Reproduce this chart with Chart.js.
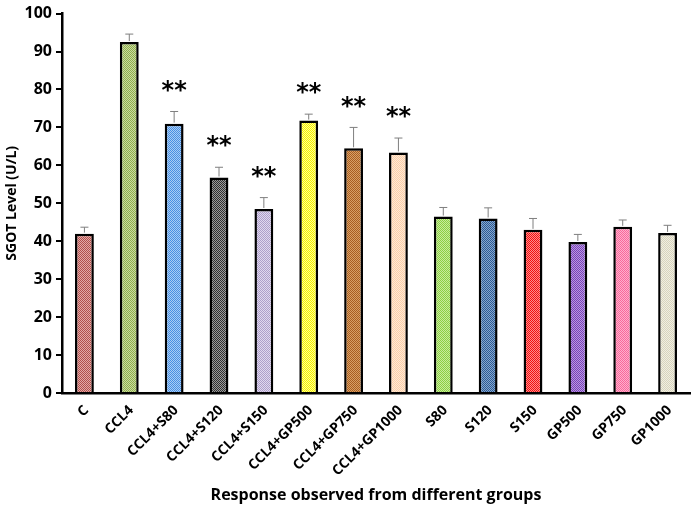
<!doctype html>
<html>
  <head>
    <meta charset="utf-8">
    <title>SGOT level</title>
    <style>
      html, body { margin: 0; padding: 0; background: #fff; }
    </style>
    <script src="https://cdn.jsdelivr.net/npm/chart.js@4/dist/chart.umd.min.js"></script>
  </head>
  <body>
    <canvas id="sgotChart" width="694" height="513"></canvas>
  </body>
  <script>
    const groups = ["C", "CCL4", "CCL4+S80", "CCL4+S120", "CCL4+S150", "CCL4+GP500", "CCL4+GP750",
                    "CCL4+GP1000", "S80", "S120", "S150", "GP500", "GP750", "GP1000"];
    const sgot = [42, 92.5, 71, 56.8, 48.5, 71.8, 64.5, 63.4, 46.5, 46, 43, 39.8, 43.8, 42.2];
    const sgotErr = [1.7, 2.1, 3.2, 2.7, 3.0, 1.7, 5.5, 3.8, 2.4, 2.8, 3.0, 2.0, 1.8, 2.0];
    const signif = ["", "", "**", "**", "**", "**", "**", "**", "", "", "", "", "", ""];
    const yTicks = [0, 10, 20, 30, 40, 50, 60, 70, 80, 90, 100];

    // checkerboard fills, [dark, light]
    const fills = [
	["#b0504c", "#e3a9a7"], ["#8fae4c", "#c9dba0"], ["#4a8fe2", "#a8cdf5"], ["#303030", "#9a9a9a"],
	["#ae9fca", "#e0d8ee"], ["#f5f000", "#ffff90"], ["#a85e22", "#d8a066"], ["#fbcfa8", "#fee8d6"],
	["#8ccf44", "#c8ec9c"], ["#2c5a94", "#86a6cc"], ["#f01010", "#ff8a8a"], ["#7a40b8", "#b89ae0"],
	["#f86a9c", "#ffb0cc"], ["#d8d4bc", "#f0eee2"]
    ];

    function checker(c1, c2) {
	let cv = document.createElement("canvas");
	cv.width = 2; cv.height = 2;
	let g = cv.getContext("2d");
	g.fillStyle = c2; g.fillRect(0, 0, 2, 2);
	g.fillStyle = c1; g.fillRect(0, 0, 1, 1); g.fillRect(1, 1, 1, 1);
	return g.createPattern(cv, "repeat");
    }

    const errorBars = {
	id: "errorBars",
	afterDatasetsDraw(chart) {
	    let ctx = chart.ctx;
	    let y = chart.scales.y;
	    let meta = chart.getDatasetMeta(0);
	    ctx.save();
	    meta.data.forEach((bar, i) => {
		let top = y.getPixelForValue(sgot[i] + sgotErr[i]);
		ctx.strokeStyle = "#7f7f7f";
		ctx.lineWidth = 1;
		ctx.beginPath();
		ctx.moveTo(bar.x, bar.y - 1);
		ctx.lineTo(bar.x, top);
		ctx.moveTo(bar.x - 4, top);
		ctx.lineTo(bar.x + 4, top);
		ctx.stroke();
		if (signif[i]) {
		    ctx.fillStyle = "#000";
		    ctx.font = "bold 24px 'DejaVu Sans'";
		    ctx.textAlign = "center";
		    ctx.textBaseline = "middle";
		    ctx.fillText(signif[i], bar.x, top - 20);
		}
	    });
	    ctx.restore();
	}
    };

    // category labels at 45 degrees on the x scale's tick positions,
    // laid out glyph by glyph along the slant
    const slantLabels = {
	id: "slantLabels",
	afterDraw(chart) {
	    let ctx = chart.ctx;
	    let x = chart.scales.x;
	    let a = Math.PI / 4, dx = Math.cos(a), dy = -Math.sin(a);
	    ctx.save();
	    ctx.fillStyle = "#000";
	    ctx.font = "bold 14px 'Open Sans'";
	    ctx.textAlign = "left";
	    ctx.textBaseline = "middle";
	    groups.forEach((g, i) => {
		let w = ctx.measureText(g).width;
		let ex = x.getPixelForTick(i) + 2, ey = x.top + 15;
		let sx = ex - w * dx, sy = ey - w * dy;
		for (let k = 0; k < g.length; k++) {
		    let off = ctx.measureText(g.slice(0, k)).width;
		    ctx.save();
		    ctx.translate(sx + off * dx, sy + off * dy);
		    ctx.rotate(-a);
		    ctx.fillText(g[k], 0, 0);
		    ctx.restore();
		}
	    });
	    ctx.restore();
	}
    };

    new Chart(document.getElementById("sgotChart"), {
	type: "bar",
	data: {
	    labels: groups,
	    datasets: [{
		data: sgot,
		backgroundColor: fills.map(f => checker(f[0], f[1])),
		borderColor: "#000",
		borderWidth: 2.5,
		borderSkipped: "bottom",
		categoryPercentage: 1,
		barPercentage: 0.42
	    }]
	},
	options: {
	    responsive: false,
	    animation: false,
	    layout: { padding: { top: 10, right: 4, bottom: 8, left: 4 } },
	    plugins: { legend: { display: false }, tooltip: { enabled: false } },
	    scales: {
		x: {
		    grid: { display: false },
		    border: { display: true, color: "#000", width: 2.5 },
		    ticks: { display: false },
		    title: {
			display: true, text: "Response observed from different groups", color: "#000",
			font: { family: "'Open Sans'", weight: "bold", size: 16 }, padding: { top: 0, bottom: 0 }
		    },
		    afterFit(s) { s.height = 112; }
		},
		y: {
		    min: 0, max: 100,
		    afterBuildTicks(s) { s.ticks = yTicks.map(v => ({ value: v })); },
		    grid: { drawOnChartArea: false, drawTicks: true, tickLength: 6, color: "#000", lineWidth: 2 },
		    border: { display: true, color: "#000", width: 2.5 },
		    ticks: {
			color: "#000", padding: 4,
			font: { family: "'Open Sans'", weight: "bold", size: 16 }
		    },
		    title: {
			display: true, text: "SGOT Level (U/L)", color: "#000",
			font: { family: "'Open Sans'", weight: "bold", size: 14 }, padding: { top: 0, bottom: 0 }
		    },
		    afterFit(s) { s.width = 58; }
		}
	    }
	},
	plugins: [errorBars, slantLabels]
    });
  </script>
</html>
